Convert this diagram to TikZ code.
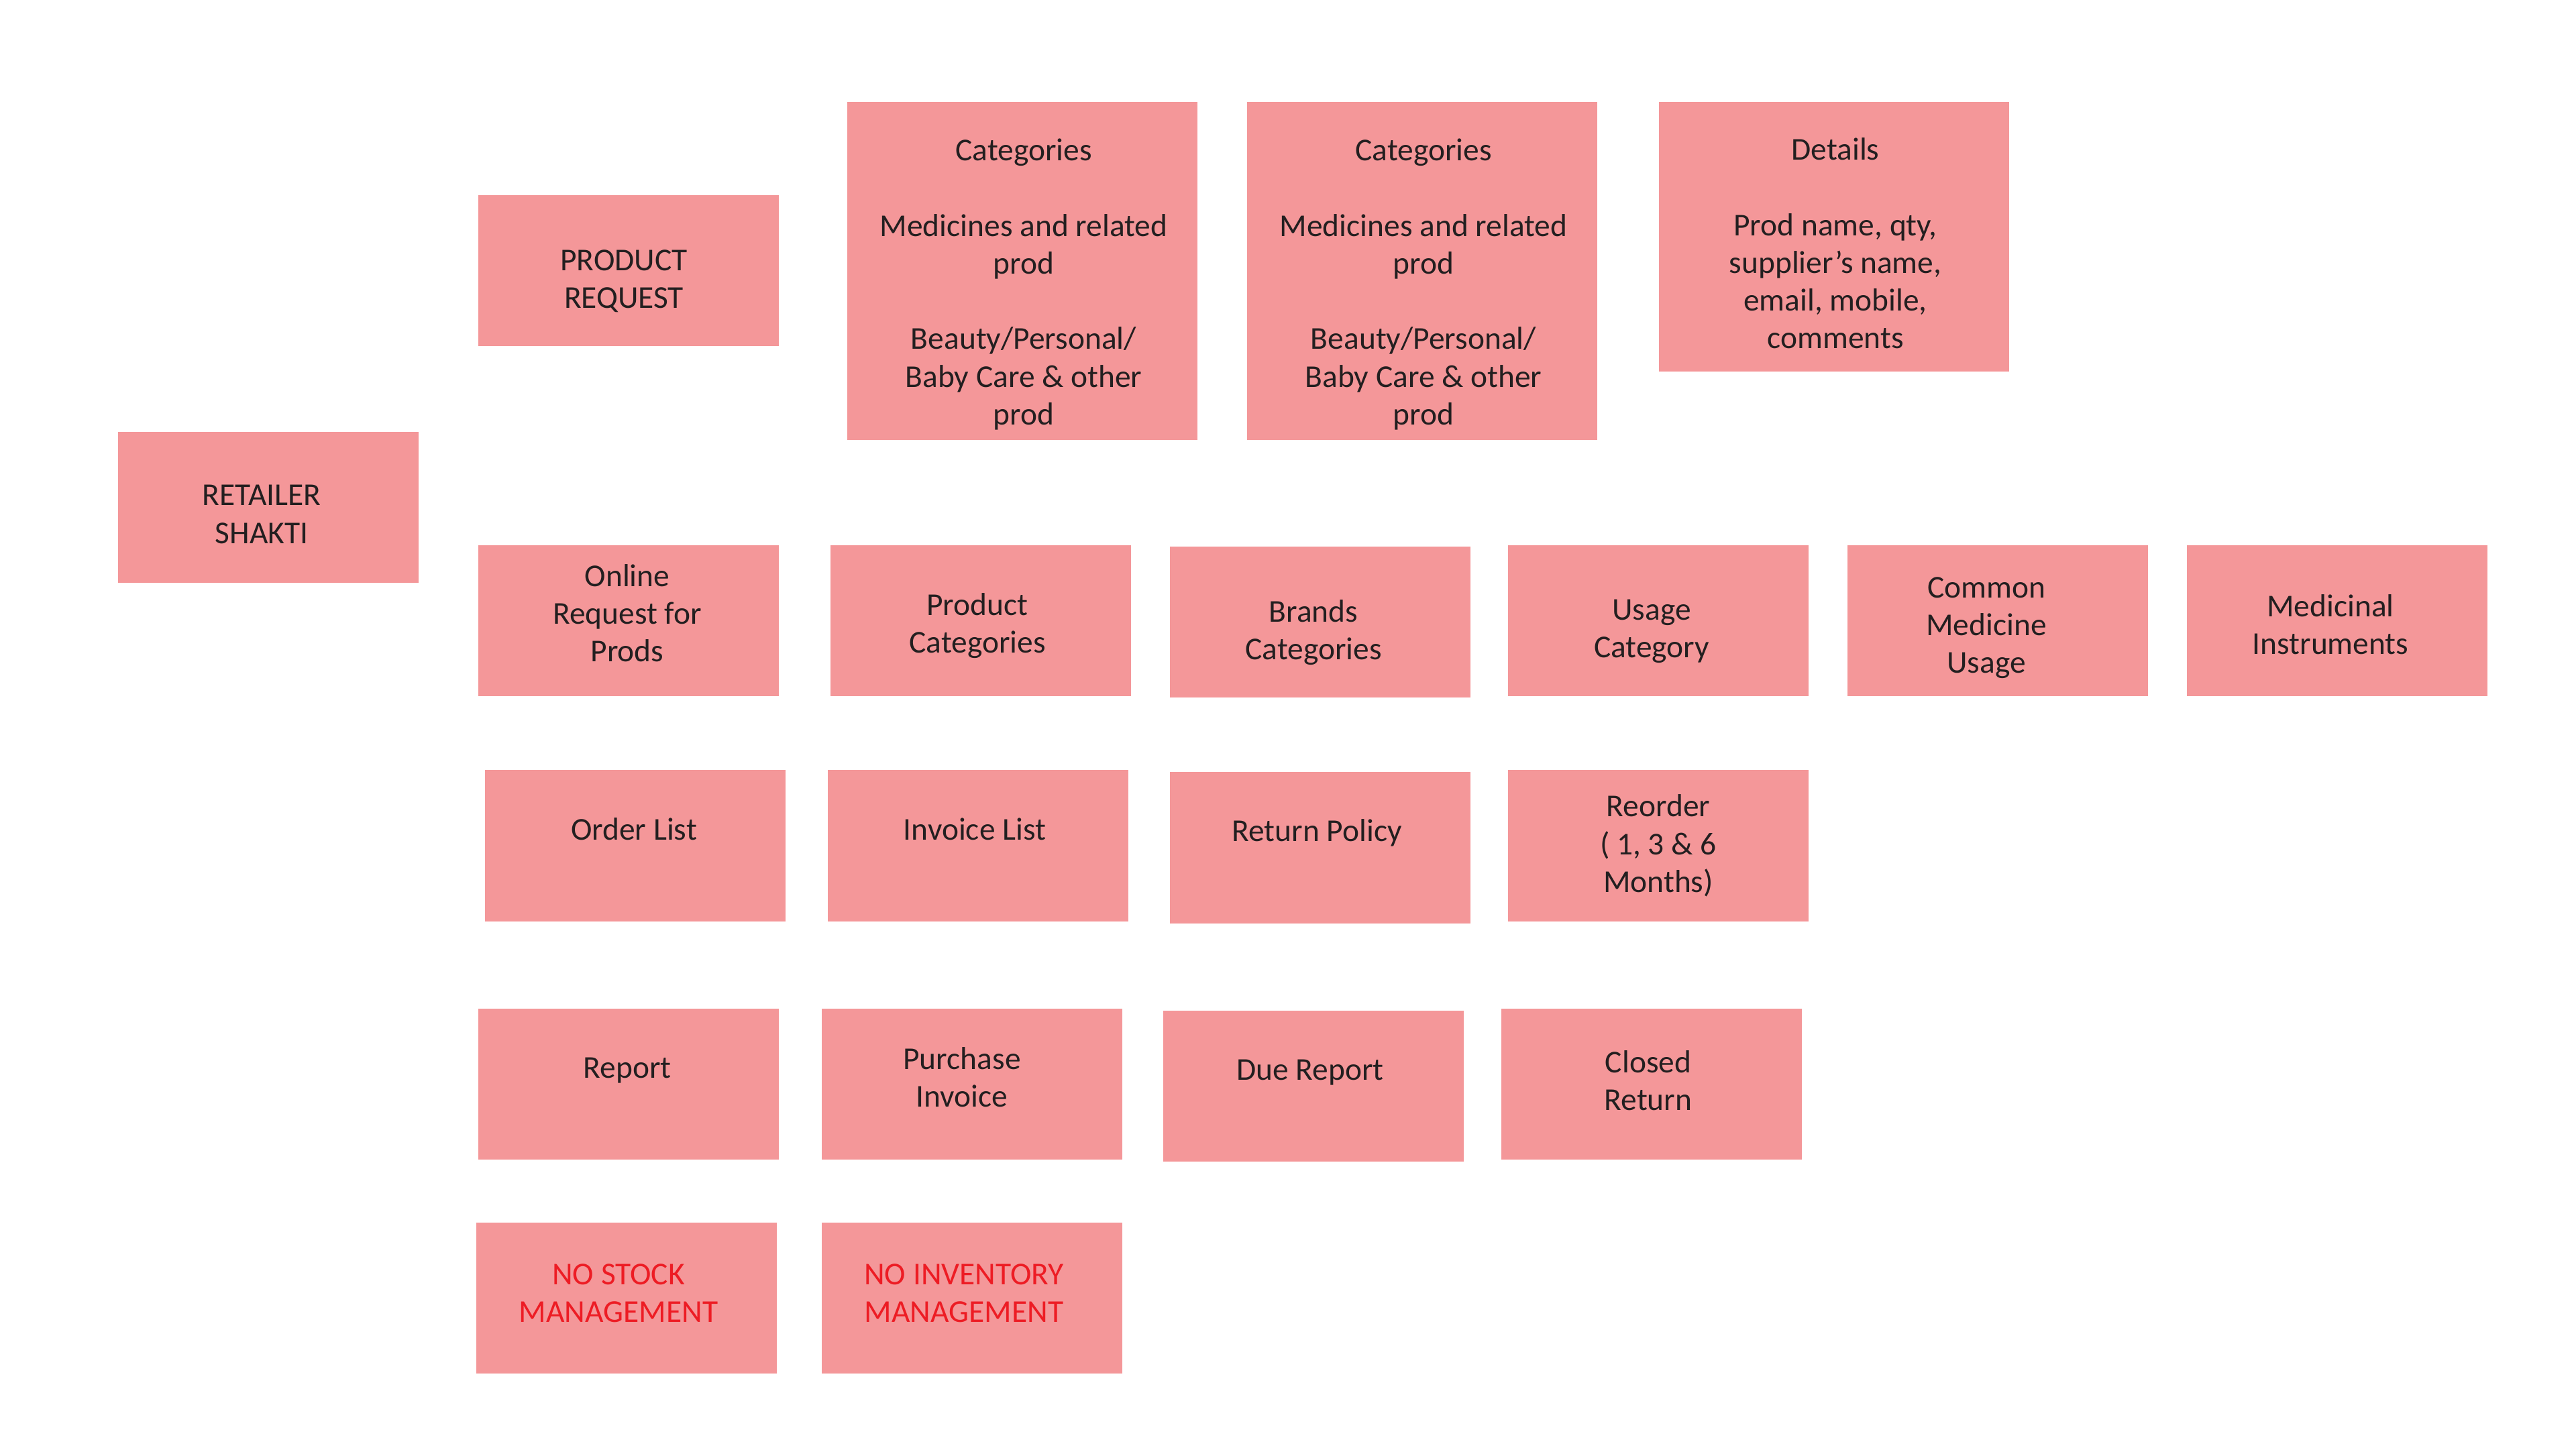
\documentclass[tikz,border=0pt]{standalone}
\usepackage{fontspec}
\setmainfont{Carlito}
\usepackage{xcolor}
\usepackage{tikz}
\definecolor{cardpink}{RGB}{244,151,153}
\definecolor{cardink}{RGB}{35,31,32}
\definecolor{warnred}{RGB}{237,28,36}

\begin{document}
\begin{tikzpicture}[x=1cm, y=1cm,
  card/.style={fill=cardpink, inner sep=0pt, minimum width=4.48cm, minimum height=2.25cm},
  tallcard/.style={card, minimum width=5.22cm, minimum height=5.04cm},
  cardtext/.style={text=cardink, align=center, inner sep=1pt, font=\fontsize{13.5}{16}\selectfont},
  warntext/.style={cardtext, text=warnred}]
  \useasboundingbox (0,0) rectangle (38.4,21.67);
  \def\rowone{17.63}
  \def\rowtwo{12.41}
  \def\rowthree{9.06}
  \def\rowfour{5.51}
  \def\rowfive{2.32}
  % left and top
  \node[card, label={[cardtext, shift={(-0.10,-0.10)}]center:{RETAILER\\SHAKTI}}] (retailer) at (4.00,14.10) {};
  \node[card, label={[cardtext, shift={(-0.07,-0.15)}]center:{PRODUCT\\REQUEST}}] (prodreq) at (9.37,\rowone) {};
  \node[tallcard, label={[cardtext, shift={(0.02,-0.20)}]center:{Categories\\~\\Medicines and related\\prod\\~\\Beauty/Personal/\\Baby Care \& other\\prod}}] (catsa) at (15.24,\rowone) {};
  \node[tallcard, label={[cardtext, shift={(0.02,-0.20)}]center:{Categories\\~\\Medicines and related\\prod\\~\\Beauty/Personal/\\Baby Care \& other\\prod}}] (catsb) at (21.20,\rowone) {};
  \node[tallcard, minimum height=4.02cm, label={[cardtext, shift={(0.02,-0.10)}]center:{Details\\~\\Prod name, qty,\\supplier’s name,\\email, mobile,\\comments}}] (details) at (27.34,18.14) {};
  % second row
  \node[card, label={[cardtext, shift={(-0.02,0.12)}]center:{Online\\Request for\\Prods}}] (online) at (9.37,\rowtwo) {};
  \node[card, label={[cardtext, shift={(-0.05,-0.07)}]center:{Product\\Categories}}] (prodcats) at (14.62,\rowtwo) {};
  \node[card, label={[cardtext, shift={(-0.10,-0.15)}]center:{Brands\\Categories}}] (brands) at (19.68,12.39) {};
  \node[card, label={[cardtext, shift={(-0.10,-0.15)}]center:{Usage\\Category}}] (usage) at (24.72,\rowtwo) {};
  \node[card, label={[cardtext, shift={(-0.17,-0.10)}]center:{Common\\Medicine\\Usage}}] (common) at (29.78,\rowtwo) {};
  \node[card, label={[cardtext, shift={(-0.10,-0.05)}]center:{Medicinal\\Instruments}}] (instr) at (34.84,\rowtwo) {};
  % third row
  \node[card, label={[cardtext, shift={(-0.02,0.245)}]center:{Order List}}] (orders) at (9.47,\rowthree) {};
  \node[card, label={[cardtext, shift={(-0.05,0.245)}]center:{Invoice List}}] (invoices) at (14.58,\rowthree) {};
  \node[card, label={[cardtext, shift={(-0.05,0.22)}]center:{Return Policy}}] (returns) at (19.68,9.03) {};
  \node[card, label={[cardtext]center:{Reorder\\( 1, 3 \& 6\\Months)}}] (reorder) at (24.72,\rowthree) {};
  % fourth row
  \node[card, label={[cardtext, shift={(-0.02,0.20)}]center:{Report}}] (report) at (9.37,\rowfour) {};
  \node[card, label={[cardtext, shift={(-0.15,0.10)}]center:{Purchase\\Invoice}}] (purchase) at (14.49,\rowfour) {};
  \node[card, label={[cardtext, shift={(-0.05,0.20)}]center:{Due Report}}] (due) at (19.58,5.48) {};
  \node[card, label={[cardtext, shift={(-0.05,0.05)}]center:{Closed\\Return}}] (closed) at (24.62,\rowfour) {};
  % last row
  \node[card, label={[warntext, shift={(-0.12,0.07)}]center:{NO STOCK\\MANAGEMENT}}] (nostock) at (9.34,\rowfive) {};
  \node[card, label={[warntext, shift={(-0.12,0.07)}]center:{NO INVENTORY\\MANAGEMENT}}] (noinv) at (14.49,\rowfive) {};
\end{tikzpicture}
\end{document}
